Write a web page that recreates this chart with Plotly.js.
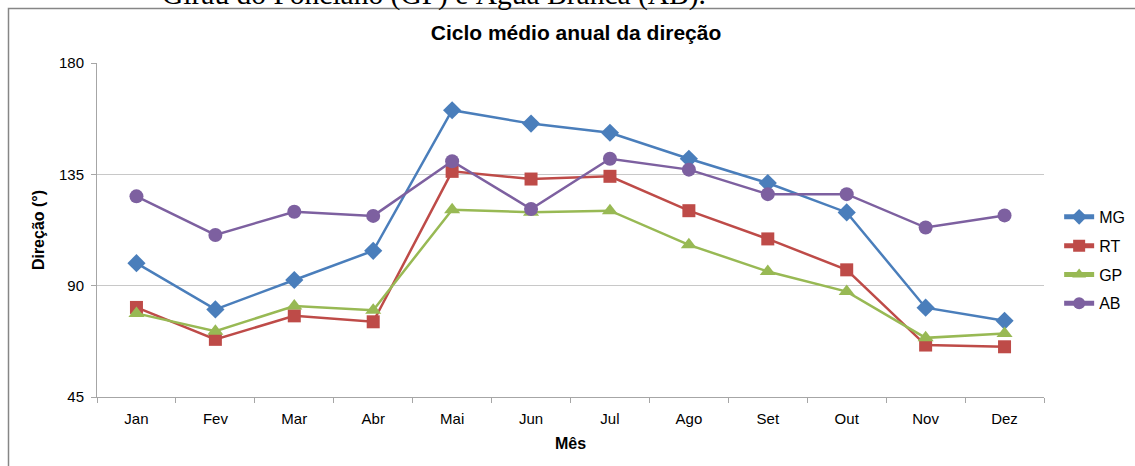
<!DOCTYPE html>
<html>
<head>
<meta charset="utf-8">
<script src="https://cdn.plot.ly/plotly-3.0.1.min.js"></script>
<style>html,body{margin:0;padding:0;background:#fff;}#chart{width:1135px;height:466px;}</style>
</head>
<body>
<div id="chart"></div>
<script>
const months = ["Jan","Fev","Mar","Abr","Mai","Jun","Jul","Ago","Set","Out","Nov","Dez"];
const MG = [99.1, 80.4, 92.3, 104.1, 160.9, 155.5, 151.8, 141.3, 131.5, 119.6, 81.1, 75.8];
const RT = [81.2, 68.3, 77.8, 75.4, 136.2, 133.1, 134.2, 120.3, 108.9, 96.4, 66.0, 65.3];
const GP = [78.8, 71.6, 81.8, 80.1, 120.7, 119.7, 120.3, 106.5, 95.7, 87.6, 68.9, 70.7];
const AB = [126.1, 110.5, 119.9, 118.2, 140.3, 121.0, 141.3, 136.9, 127.0, 127.0, 113.5, 118.4];
const yTicks = [45, 90, 135, 180];

const seriesDefs = [
  {name: "MG", y: MG, color: "#4A7EBB", symbol: "diamond", size: 14},
  {name: "RT", y: RT, color: "#BE4B48", symbol: "square", size: 13},
  {name: "GP", y: GP, color: "#98B954", symbol: "triangle-up", size: 14},
  {name: "AB", y: AB, color: "#7D60A0", symbol: "circle", size: 14}
];

const traces = seriesDefs.map(s => ({
  type: "scatter",
  mode: "lines+markers",
  x: months,
  y: s.y,
  name: s.name,
  legendgroup: s.name,
  line: {color: s.color, width: 2.5},
  marker: {color: s.color, symbol: s.symbol, size: s.size}
}));

const font = "Liberation Sans, Arial, sans-serif";

const layout = {
  width: 1135, height: 466,
  margin: {l: 97, r: 91, t: 63, b: 69, autoexpand: false},
  paper_bgcolor: "#ffffff",
  plot_bgcolor: "#ffffff",
  font: {family: font, color: "#000", size: 15},
  title: {
    text: "<b>Ciclo médio anual da direção</b>",
    font: {family: font, size: 21, color: "#000"},
    x: 0.5075, xanchor: "center", xref: "container",
    y: 0.931, yanchor: "middle", yref: "container"
  },
  xaxis: {
    type: "category",
    range: [-0.5, 11.5],
    showgrid: false,
    showline: true, linecolor: "#A6A6A6", linewidth: 1,
    ticks: "outside", tickson: "boundaries", ticklen: 5, tickcolor: "#A6A6A6",
    ticklabelstandoff: 8,
    tickfont: {family: font, size: 15, color: "#000"},
    title: {text: "<b>Mês</b>", font: {family: font, size: 16, color: "#000"}, standoff: 11},
    zeroline: false, fixedrange: true
  },
  yaxis: {
    range: [45, 180],
    tickvals: yTicks,
    ticktext: yTicks.map(String),
    showgrid: true, gridcolor: "#C8C8C8", gridwidth: 1,
    showline: true, linecolor: "#A6A6A6", linewidth: 1,
    ticks: "outside", ticklen: 5, tickcolor: "#A6A6A6",
    ticklabelstandoff: 4,
    tickfont: {family: font, size: 15, color: "#000"},
    title: {text: "<b>Direção (°)</b>", font: {family: font, size: 16, color: "#000"}, standoff: 10},
    zeroline: false, fixedrange: true
  },
  showlegend: true,
  legend: {
    x: 1.016, xanchor: "left",
    y: 0.59, yanchor: "top",
    font: {family: font, size: 16, color: "#000"},
    bgcolor: "rgba(0,0,0,0)",
    traceorder: "grouped",
    tracegroupgap: 5,
    itemwidth: 30,
    itemsizing: "constant"
  },
  shapes: [{
    type: "rect", xref: "paper", yref: "paper",
    x0: -88.5/947, x1: 1.2, y0: -0.3, y1: 1 + 54.5/334,
    line: {color: "#868686", width: 1.5}, fillcolor: "rgba(0,0,0,0)", layer: "below"
  }],
  annotations: [{
    text: "Girau do Ponciano (GP) e Água Branca (AB).",
    xref: "paper", yref: "paper",
    x: (160 - 97) / 947, xanchor: "left",
    y: 1 + 50.5/334, yanchor: "bottom",
    showarrow: false,
    font: {family: "Liberation Serif, Times New Roman, serif", size: 29.5, color: "#000"}
  }]
};

Plotly.newPlot("chart", traces, layout, {displayModeBar: false, staticPlot: true});
</script>
</body>
</html>
